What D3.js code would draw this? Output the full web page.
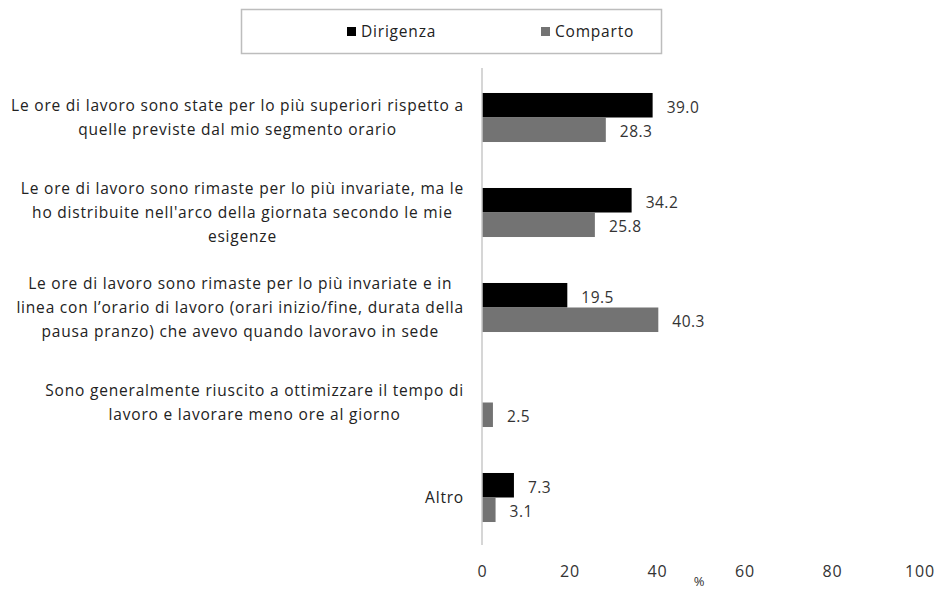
<!DOCTYPE html>
<html>
<head>
<meta charset="utf-8">
<script src="https://cdn.jsdelivr.net/npm/d3@7"></script>
<style>
  html, body { margin: 0; padding: 0; background: #fff; }
  svg { display: block; font-family: "Open Sans", Lato, sans-serif; }
</style>
</head>
<body>
<svg id="chart" width="939" height="590"></svg>
<script>
// Answer categories (line breaks as wrapped in the chart)
const categories = [
  "Le ore di lavoro sono state per lo più superiori rispetto a\nquelle previste dal mio segmento orario",
  "Le ore di lavoro sono rimaste per lo più invariate, ma le\nho distribuite nell'arco della giornata secondo le mie\nesigenze",
  "Le ore di lavoro sono rimaste per lo più invariate e in\nlinea con l’orario di lavoro (orari inizio/fine, durata della\npausa pranzo) che avevo quando lavoravo in sede",
  "Sono generalmente riuscito a ottimizzare il tempo di\nlavoro e lavorare meno ore al giorno",
  "Altro"
];
const seriesNames = ["Dirigenza", "Comparto"];
const dirigenza = [39.0, 34.2, 19.5, null, 7.3];
const comparto  = [28.3, 25.8, 40.3, 2.5, 3.1];
const xTicks = [0, 20, 40, 60, 80, 100];
const xTitle = "%";

const colors = { Dirigenza: "#000000", Comparto: "#737373" };

const svg = d3.select("#chart");

const x = d3.scaleLinear().domain([0, 100]).range([482, 919.5]);
const y0 = d3.scaleBand().domain(d3.range(categories.length))
  .range([70, 545]).paddingInner(0.484).paddingOuter(0.242);
const y1 = d3.scaleBand().domain(seriesNames).range([0, y0.bandwidth()]);

const rows = categories.map((c, i) => ({
  i,
  values: [
    { name: "Dirigenza", v: dirigenza[i] },
    { name: "Comparto", v: comparto[i] }
  ]
}));

// Bars
const groups = svg.append("g").selectAll("g").data(rows).join("g")
  .attr("transform", d => `translate(0,${y0(d.i)})`);

groups.selectAll("rect")
  .data(d => d.values.filter(e => e.v != null))
  .join("rect")
  .attr("x", x(0))
  .attr("y", e => y1(e.name))
  .attr("width", e => x(e.v) - x(0))
  .attr("height", y1.bandwidth())
  .attr("fill", e => colors[e.name]);

// Value labels
groups.selectAll("text")
  .data(d => d.values.filter(e => e.v != null))
  .join("text")
  .attr("x", e => x(e.v) + 14)
  .attr("y", e => y1(e.name) + y1.bandwidth() / 2 + 2)
  .attr("dy", "0.35em")
  .attr("font-size", 15.5)
  .attr("letter-spacing", 0.5)
  .attr("fill", "#333")
  .text(e => e.v.toFixed(1));

// Vertical axis line
svg.append("line")
  .attr("x1", x(0)).attr("x2", x(0))
  .attr("y1", 68).attr("y2", 545)
  .attr("stroke", "#c8c8c8").attr("stroke-width", 1.5);

// Category labels: lines centred within a right-aligned block
const labelRight = 464;
const lineH = 24;
const labelG = svg.append("g");
categories.forEach((c, i) => {
  const lines = c.split("\n");
  const t = labelG.append("text")
    .attr("font-size", 15.5)
    .attr("letter-spacing", 0.8)
    .attr("fill", "#222")
    .attr("text-anchor", "middle");
  const cy = y0(i) + y0.bandwidth() / 2;
  const top = cy - (lines.length - 1) * lineH / 2;
  const spans = lines.map((ln, k) => t.append("tspan")
    .attr("y", top + k * lineH)
    .attr("dy", "0.35em")
    .text(ln));
  const maxW = d3.max(spans, s => s.node().getComputedTextLength());
  spans.forEach(s => s.attr("x", labelRight - maxW / 2));
});

// X axis
const xAxis = d3.axisBottom(x).tickValues(xTicks).tickSize(0).tickPadding(3);
const ax = svg.append("g").attr("transform", "translate(0,563)").call(xAxis);
ax.select(".domain").remove();
ax.selectAll("text").attr("font-size", 16).attr("fill", "#333")
  .attr("letter-spacing", 0.8)
  .attr("font-family", "'Open Sans', Lato, sans-serif");

svg.append("text")
  .attr("x", 699).attr("y", 586)
  .attr("text-anchor", "middle")
  .attr("font-size", 13).attr("fill", "#333")
  .text(xTitle);

// Legend
const legend = svg.append("g");
legend.append("rect")
  .attr("x", 241.5).attr("y", 9.5).attr("width", 420).attr("height", 44)
  .attr("fill", "#fff").attr("stroke", "#bdbdbd").attr("stroke-width", 1.5);
const legendX = { Dirigenza: 347, Comparto: 541 };
seriesNames.forEach(n => {
  legend.append("rect")
    .attr("x", legendX[n]).attr("y", 27).attr("width", 9).attr("height", 9)
    .attr("fill", colors[n]);
  legend.append("text")
    .attr("x", legendX[n] + 14).attr("y", 32)
    .attr("dy", "0.35em")
    .attr("font-size", 15.5).attr("letter-spacing", 0.8).attr("fill", "#222")
    .text(n);
});
</script>
</body>
</html>
